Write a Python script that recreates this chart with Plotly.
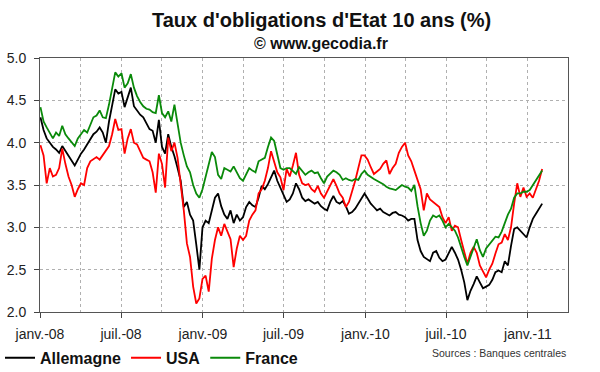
import pandas as pd
import plotly.graph_objects as go

start_date = "2008-01-02"

allemagne = [
    4.30, 4.15, 4.05, 4.00, 3.95, 3.92, 3.88, 3.96, 3.90, 3.85,
    3.78, 3.73, 3.80, 3.87, 3.92, 3.98, 4.05, 4.10, 4.13, 4.18,
    4.12, 4.00, 4.25, 4.45, 4.63, 4.58, 4.60, 4.42, 4.55, 4.65,
    4.43, 4.38, 4.33, 4.30, 4.22, 4.16, 4.14, 4.00, 4.27, 3.95,
    3.87, 4.10, 3.95, 3.84, 3.70, 3.55, 3.24, 3.30, 3.15, 3.08,
    2.80, 2.50, 3.00, 3.08, 3.05, 3.20, 3.35, 3.40, 3.25, 3.15,
    3.10, 3.20, 3.05, 3.15, 3.08, 3.12, 3.24, 3.30, 3.26, 3.24,
    3.35, 3.49, 3.45, 3.51, 3.60, 3.67, 3.55, 3.47, 3.40, 3.30,
    3.33, 3.40, 3.52, 3.45, 3.35, 3.31, 3.33, 3.30, 3.28, 3.30,
    3.25, 3.22, 3.20, 3.30, 3.37, 3.30, 3.28, 3.31, 3.25, 3.16,
    3.18, 3.22, 3.28, 3.35, 3.40, 3.34, 3.28, 3.24, 3.20, 3.22,
    3.18, 3.16, 3.14, 3.17, 3.18, 3.15, 3.14, 3.12, 3.08, 3.10,
    3.10, 2.85, 2.72, 2.65, 2.62, 2.60, 2.70, 2.72, 2.64, 2.60,
    2.62, 2.70, 2.77, 2.70, 2.62, 2.50, 2.35, 2.14, 2.25, 2.33,
    2.42, 2.35, 2.28, 2.30, 2.32, 2.38, 2.47, 2.49, 2.47, 2.60,
    2.55, 2.78, 2.98, 3.00, 2.96, 2.92, 2.88, 3.00, 3.10, 3.16,
    3.22, 3.28,
]

usa = [
    3.97, 3.85, 3.52, 3.70, 3.60, 3.62, 3.70, 3.93, 3.75, 3.60,
    3.50, 3.36, 3.45, 3.52, 3.50, 3.70, 3.78, 3.80, 3.83, 3.80,
    3.85, 3.90, 3.96, 4.10, 4.28, 4.15, 4.16, 3.87, 4.05, 4.16,
    4.00, 3.98, 3.90, 3.82, 3.80, 3.78, 3.65, 3.41, 3.87, 3.75,
    3.47, 4.06, 3.90, 4.00, 3.82, 3.51, 3.20, 2.81, 2.65, 2.30,
    2.10, 2.16, 2.39, 2.43, 2.24, 2.63, 2.85, 3.00, 2.90, 3.04,
    2.95, 2.86, 2.53, 2.75, 2.90, 2.85, 2.90, 3.08, 3.15, 3.20,
    3.40, 3.45, 3.55, 3.70, 3.90, 3.78, 3.65, 3.59, 3.44, 3.69,
    3.60, 3.73, 3.88, 3.62, 3.52, 3.50, 3.51, 3.45, 3.42, 3.49,
    3.40, 3.35, 3.42, 3.50, 3.57, 3.49, 3.40, 3.35, 3.24, 3.30,
    3.42, 3.55, 3.70, 3.85, 3.85, 3.80, 3.71, 3.63, 3.66, 3.69,
    3.75, 3.79, 3.63, 3.70, 3.75, 3.88, 3.95, 4.00, 3.85, 3.78,
    3.67, 3.55, 3.45, 3.20, 3.40, 3.33, 3.30, 3.28, 3.24, 3.12,
    3.05, 3.12, 2.96, 3.02, 3.00, 2.85, 2.70, 2.57, 2.70, 2.77,
    2.70, 2.55, 2.48, 2.41, 2.50, 2.57, 2.69, 2.80, 2.82, 2.92,
    2.85, 3.00, 3.28, 3.52, 3.36, 3.47, 3.36, 3.40, 3.35, 3.44,
    3.55, 3.69,
]

france = [
    4.42, 4.25, 4.18, 4.12, 4.05, 4.12, 4.08, 4.20, 4.10, 4.05,
    4.00, 3.96, 4.05, 4.10, 4.15, 4.12, 4.22, 4.30, 4.32, 4.38,
    4.30, 4.29, 4.45, 4.65, 4.83, 4.78, 4.82, 4.65, 4.70, 4.81,
    4.65, 4.55, 4.48, 4.43, 4.40, 4.39, 4.36, 4.35, 4.56, 4.35,
    4.30, 4.37, 4.25, 4.45, 4.20, 4.00, 3.85, 3.72, 3.65, 3.50,
    3.40, 3.35, 3.45, 3.60, 3.75, 3.89, 3.83, 3.62, 3.57, 3.70,
    3.68, 3.66, 3.72, 3.65, 3.58, 3.55, 3.62, 3.70, 3.67, 3.65,
    3.78, 3.80, 3.82, 3.95, 4.06, 4.02, 3.85, 3.70, 3.68, 3.70,
    3.70, 3.66, 3.63, 3.71, 3.66, 3.62, 3.65, 3.67, 3.64, 3.65,
    3.58, 3.52, 3.60, 3.63, 3.67, 3.65, 3.62, 3.56, 3.58, 3.56,
    3.55, 3.57, 3.56, 3.63, 3.67, 3.62, 3.59, 3.57, 3.55, 3.53,
    3.51, 3.48, 3.46, 3.45, 3.44, 3.47, 3.50, 3.48, 3.47, 3.43,
    3.50, 3.25, 3.05, 2.90, 2.96, 3.08, 3.14, 3.12, 3.14, 3.08,
    3.00, 3.04, 3.00, 2.96, 2.88, 2.75, 2.65, 2.55, 2.65, 2.75,
    2.86, 2.73, 2.65, 2.75, 2.80, 2.85, 2.89, 2.88, 2.95, 3.05,
    3.15, 3.22, 3.35, 3.40, 3.40, 3.42, 3.42, 3.44, 3.50, 3.56,
    3.62, 3.67,
]

tick_dates = ["2008-01-01", "2008-07-01", "2009-01-01", "2009-07-01",
              "2010-01-01", "2010-07-01", "2011-01-01"]
tick_labels = ["janv.-08", "juil.-08", "janv.-09", "juil.-09",
               "janv.-10", "juil.-10", "janv.-11"]

series = [("Allemagne", allemagne, "#000000"),
          ("USA", usa, "#ff0000"),
          ("France", france, "#0a8a0a")]

fig = go.Figure()
for name, vals, col in series:
    dates = pd.date_range(start_date, periods=len(vals), freq="7D")
    fig.add_trace(go.Scatter(x=dates, y=vals, mode="lines", name=name,
                             line=dict(color=col, width=1.8)))

font_main = "Liberation Sans, Arial, sans-serif"

fig.update_layout(
    width=600, height=372,
    margin=dict(l=40, r=32, t=58, b=60, autoexpand=False),
    paper_bgcolor="white", plot_bgcolor="white",
    font=dict(family=font_main, color="#222222"),
    showlegend=True,
    legend=dict(orientation="h", xref="container", yref="container",
                x=-0.032, y=0.038, xanchor="left", yanchor="middle",
                font=dict(size=16, color="#111111", family=font_main, weight="bold"),
                itemwidth=30, tracegroupgap=0, bgcolor="rgba(0,0,0,0)"),
    annotations=[
        dict(text="<b>Taux d'obligations d'Etat 10 ans (%)</b>", xref="paper", yref="paper",
             x=0.533, y=1.15, xanchor="center", yanchor="middle", showarrow=False,
             font=dict(size=20, color="#111111", family=font_main)),
        dict(text="<b>© www.gecodia.fr</b>", xref="paper", yref="paper",
             x=0.533, y=1.058, xanchor="center", yanchor="middle", showarrow=False,
             font=dict(size=16, color="#111111", family=font_main)),
        dict(text="Sources : Banques centrales", xref="paper", yref="paper",
             x=1.0, y=-0.16, xanchor="right", yanchor="middle", showarrow=False,
             font=dict(size=10.5, color="#333333",
                       family="Liberation Sans Narrow, Arial Narrow, Liberation Sans, sans-serif")),
    ],
)

fig.update_xaxes(
    type="date", range=["2008-01-01", "2011-04-01"], automargin=False,
    tickmode="array", tickvals=tick_dates, ticktext=tick_labels,
    ticks="outside", ticklen=5, tickcolor="#444444", ticklabelstandoff=4,
    tickfont=dict(size=14, color="#222222"),
    showline=True, linecolor="#555555", linewidth=1, mirror=True,
    showgrid=True, gridcolor="#b0b0b0", griddash="dot", gridwidth=1,
    minor=dict(tickmode="linear", tick0="2008-01-01", dtick="M3",
               showgrid=True, gridcolor="#b0b0b0", griddash="dot", ticks=""),
    zeroline=False,
)
fig.update_yaxes(
    range=[2.0, 5.0], automargin=False,
    tickmode="linear", tick0=2.0, dtick=0.5, tickformat=".1f",
    ticks="outside", ticklen=5, tickcolor="#444444", ticklabelstandoff=5,
    tickfont=dict(size=14, color="#222222"),
    showline=True, linecolor="#555555", linewidth=1, mirror=True,
    showgrid=True, gridcolor="#b0b0b0", griddash="dot", gridwidth=1,
    zeroline=False,
)

fig.write_html("out.html", config={"displayModeBar": False},
               post_script="document.body.style.margin='0';document.body.style.padding='0';")
